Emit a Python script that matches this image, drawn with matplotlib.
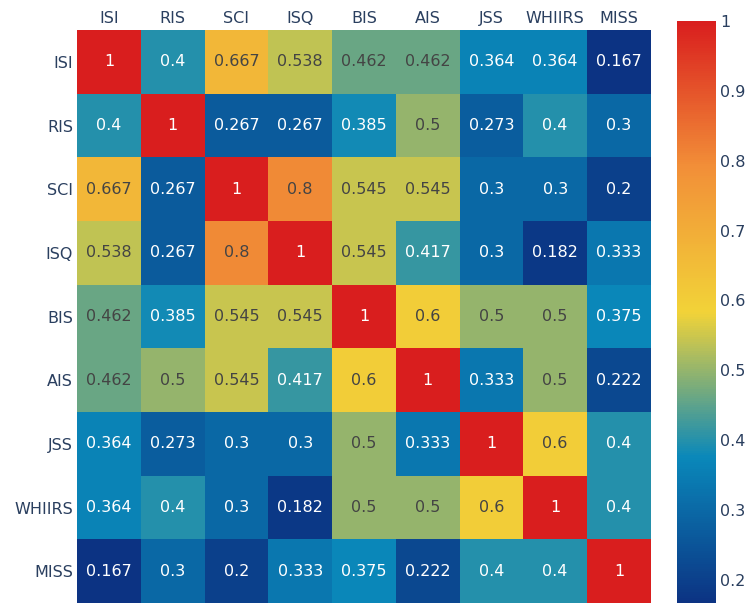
import numpy as np
import matplotlib.pyplot as plt
from matplotlib.colors import LinearSegmentedColormap, Normalize

# Labels and correlation values
labels = ['ISI', 'RIS', 'SCI', 'ISQ', 'BIS', 'AIS', 'JSS', 'WHIIRS', 'MISS']
values = [
    [1, 0.4, 0.667, 0.538, 0.462, 0.462, 0.364, 0.364, 0.167],
    [0.4, 1, 0.267, 0.267, 0.385, 0.5, 0.273, 0.4, 0.3],
    [0.667, 0.267, 1, 0.8, 0.545, 0.545, 0.3, 0.3, 0.2],
    [0.538, 0.267, 0.8, 1, 0.545, 0.417, 0.3, 0.182, 0.333],
    [0.462, 0.385, 0.545, 0.545, 1, 0.6, 0.5, 0.5, 0.375],
    [0.462, 0.5, 0.545, 0.417, 0.6, 1, 0.333, 0.5, 0.222],
    [0.364, 0.273, 0.3, 0.3, 0.5, 0.333, 1, 0.6, 0.4],
    [0.364, 0.4, 0.3, 0.182, 0.5, 0.5, 0.6, 1, 0.4],
    [0.167, 0.3, 0.2, 0.333, 0.375, 0.222, 0.4, 0.4, 1],
]
cbar_ticks = [0.2, 0.3, 0.4, 0.5, 0.6, 0.7, 0.8, 0.9, 1]
cbar_labels = ['0.2', '0.3', '0.4', '0.5', '0.6', '0.7', '0.8', '0.9', '1']

# Plotly "Portland" colour scale
portland = LinearSegmentedColormap.from_list('portland', [
    (0.0, (12/255, 51/255, 131/255)),
    (0.25, (10/255, 136/255, 186/255)),
    (0.5, (242/255, 211/255, 56/255)),
    (0.75, (242/255, 143/255, 56/255)),
    (1.0, (217/255, 30/255, 30/255)),
])

tick_color = '#2a3f5f'
plt.rcParams['font.family'] = ['DejaVu Sans']

data = np.array(values)
vmin, vmax = data.min(), data.max()
norm = Normalize(vmin=vmin, vmax=vmax)

fig = plt.figure(figsize=(7.48, 6.05), dpi=100)
ax = fig.add_axes([0.103, 0.0033, 0.767, 0.947])
mesh = ax.imshow(data, cmap=portland, norm=norm, aspect='auto',
                 interpolation='nearest')

for i in range(len(labels)):
    for j in range(len(labels)):
        v = data[i, j]
        r, g, b, _ = portland(norm(v))
        lum = 0.299 * r + 0.587 * g + 0.114 * b
        color = '#444444' if lum > 0.5 else 'white'
        ax.text(j, i, f'{v:g}', ha='center', va='center',
                color=color, fontsize=11.5)

ax.set_xticks(range(len(labels)))
ax.set_xticklabels(labels)
ax.set_yticks(range(len(labels)))
ax.set_yticklabels(labels)
ax.xaxis.tick_top()
ax.tick_params(length=0, labelsize=11.5, colors=tick_color, pad=3)
for s in ax.spines.values():
    s.set_visible(False)

cax = fig.add_axes([0.905, 0.0033, 0.052, 0.962])
cb = fig.colorbar(mesh, cax=cax)
cb.set_ticks(cbar_ticks)
cb.set_ticklabels(cbar_labels)
cb.outline.set_visible(False)
cax.tick_params(length=0, labelsize=11.5, colors=tick_color, pad=3)

fig.savefig('out.png', dpi=100)
